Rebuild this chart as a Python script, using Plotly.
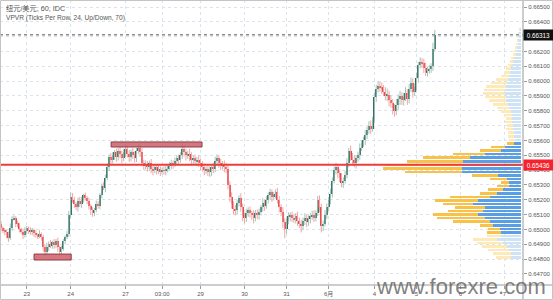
import plotly.graph_objects as go

# ---------------- data ----------------
title_line1 = "纽元/美元, 60, IDC"
title_line2 = "VPVR (Ticks Per Row, 24, Up/Down, 70)"

first_open = 0.65040
closes = [
    0.65010, 0.64990, 0.64985, 0.64960, 0.64945, 0.65010, 0.65070, 0.65080, 0.65040, 0.65030,
    0.65000, 0.64985, 0.64960, 0.64990, 0.65010, 0.64995, 0.64980, 0.64995, 0.64975, 0.64960,
    0.64955, 0.64970, 0.64950, 0.64880, 0.64850, 0.64880, 0.64905, 0.64890, 0.64915, 0.64895,
    0.64920, 0.64880, 0.64850, 0.64870, 0.64920, 0.64950, 0.64970, 0.65100, 0.65220, 0.65200,
    0.65170, 0.65150, 0.65190, 0.65170, 0.65200, 0.65230, 0.65210, 0.65190, 0.65160, 0.65130,
    0.65110, 0.65130, 0.65170, 0.65160, 0.65230, 0.65290, 0.65280, 0.65350, 0.65420, 0.65490,
    0.65470, 0.65500, 0.65520, 0.65490, 0.65530, 0.65510, 0.65480, 0.65520, 0.65540, 0.65510,
    0.65490, 0.65520, 0.65500, 0.65480, 0.65530, 0.65550, 0.65520, 0.65450, 0.65430, 0.65440,
    0.65420, 0.65450, 0.65410, 0.65400, 0.65420, 0.65400, 0.65410, 0.65390, 0.65400, 0.65395,
    0.65410, 0.65420, 0.65430, 0.65450, 0.65440, 0.65460, 0.65480, 0.65470, 0.65500, 0.65540,
    0.65520, 0.65500, 0.65510, 0.65490, 0.65470, 0.65480, 0.65460, 0.65470, 0.65450, 0.65440,
    0.65420, 0.65400, 0.65410, 0.65390, 0.65400, 0.65420, 0.65410, 0.65460, 0.65480, 0.65450,
    0.65430, 0.65440, 0.65420, 0.65410, 0.65300, 0.65220, 0.65170, 0.65140, 0.65130, 0.65180,
    0.65210, 0.65150, 0.65090, 0.65080, 0.65110, 0.65130, 0.65110, 0.65100, 0.65080, 0.65110,
    0.65100, 0.65120, 0.65150, 0.65180, 0.65160, 0.65200, 0.65230, 0.65250, 0.65220, 0.65240,
    0.65250, 0.65200, 0.65150, 0.65120, 0.65050, 0.65000, 0.65060, 0.65090, 0.65100, 0.65080,
    0.65070, 0.65090, 0.65060, 0.65040, 0.65020, 0.65060, 0.65080, 0.65050, 0.65070, 0.65090,
    0.65100, 0.65080, 0.65110, 0.65200, 0.65150, 0.65020, 0.65040, 0.65100, 0.65150, 0.65200,
    0.65240, 0.65330, 0.65400, 0.65420, 0.65380, 0.65350, 0.65310, 0.65330, 0.65370, 0.65450,
    0.65530, 0.65490, 0.65470, 0.65450, 0.65480, 0.65500, 0.65550, 0.65580, 0.65600, 0.65640,
    0.65670, 0.65700, 0.65680, 0.65740, 0.65890, 0.65950, 0.65970, 0.65960, 0.65950, 0.65930,
    0.65900, 0.65910, 0.65870, 0.65850, 0.65820, 0.65800, 0.65840, 0.65880, 0.65900, 0.65870,
    0.65890, 0.65920, 0.65880, 0.65950, 0.65990, 0.65930, 0.65960, 0.66020, 0.66110, 0.66130,
    0.66120, 0.66090, 0.66060, 0.66070, 0.66080, 0.66100, 0.66220, 0.66313,
]
# wick lengths above / below the body, in points (0.00001)
wick_up_pts = [
    15, 10, 20, 12, 25, 30, 20, 15, 10, 20,
    15, 10, 20, 25, 15, 10, 20, 15, 10, 20,
    15, 25, 10, 15, 20, 30, 15, 25, 10, 20,
    15, 25, 10, 20, 15, 10, 20, 25, 30, 25,
    20, 15, 25, 30, 20, 10, 20, 15, 25, 10,
    20, 15, 25, 20, 15, 20, 30, 20, 25, 15,
    25, 20, 15, 25, 20, 30, 20, 25, 30, 20,
    25, 20, 30, 25, 20, 30, 25, 30, 20, 25,
    20, 15, 25, 20, 15, 20, 25, 15, 20, 25,
    20, 15, 25, 20, 15, 25, 20, 25, 20, 40,
    30, 25, 20, 35, 30, 20, 25, 20, 30, 25,
    20, 25, 15, 20, 25, 20, 30, 30, 25, 20,
    25, 20, 25, 30, 20, 25, 30, 20, 25, 20,
    20, 35, 25, 20, 30, 20, 25, 15, 30, 20,
    25, 20, 15, 30, 20, 25, 20, 25, 20, 15,
    20, 30, 25, 20, 30, 25, 20, 25, 15, 20,
    25, 20, 30, 20, 25, 20, 30, 20, 25, 20,
    25, 30, 20, 25, 30, 25, 20, 30, 25, 20,
    35, 20, 25, 30, 20, 25, 30, 20, 25, 30,
    20, 35, 25, 30, 20, 25, 30, 20, 25, 30,
    25, 30, 35, 20, 30, 25, 30, 25, 30, 25,
    30, 40, 25, 35, 30, 25, 40, 30, 35, 25,
    30, 40, 25, 30, 35, 30, 25, 35, 20, 30,
    25, 30, 35, 25, 30, 20, 40, 32,
]
wick_dn_pts = [
    20, 15, 25, 20, 30, 15, 20, 10, 25, 15,
    20, 15, 25, 15, 20, 25, 15, 20, 25, 15,
    20, 15, 25, 30, 30, 20, 25, 15, 20, 25,
    20, 30, 25, 20, 15, 20, 15, 20, 25, 20,
    25, 20, 30, 20, 25, 20, 15, 20, 25, 30,
    25, 20, 15, 20, 25, 20, 15, 30, 20, 25,
    30, 25, 30, 35, 25, 30, 35, 20, 30, 25,
    35, 30, 25, 30, 25, 20, 30, 25, 30, 25,
    30, 25, 30, 35, 20, 30, 25, 30, 20, 25,
    30, 25, 20, 25, 30, 20, 25, 30, 20, 25,
    30, 35, 25, 30, 40, 35, 30, 35, 30, 40,
    30, 35, 25, 30, 35, 40, 30, 25, 30, 35,
    30, 25, 35, 30, 30, 35, 30, 40, 35, 30,
    25, 30, 35, 40, 30, 25, 30, 35, 40, 25,
    30, 35, 25, 30, 35, 20, 25, 30, 35, 25,
    30, 25, 35, 30, 40, 60, 30, 25, 35, 30,
    25, 30, 35, 30, 40, 25, 30, 35, 25, 30,
    25, 30, 25, 20, 35, 40, 30, 20, 30, 25,
    30, 25, 20, 30, 35, 30, 25, 30, 20, 25,
    30, 25, 35, 30, 40, 25, 30, 20, 25, 30,
    30, 25, 35, 20, 25, 30, 25, 30, 35, 30,
    30, 35, 40, 30, 45, 40, 30, 35, 40, 30,
    35, 25, 40, 30, 25, 40, 30, 25, 30, 25,
    30, 35, 25, 30, 20, 25, 30, 20,
]

day_tick_index = [14, 38, 68, 88, 109, 133, 156, 179, 204, 227, 251, 275]
day_tick_text = ["23", "24", "27", "03:00", "29", "30", "31", "6月", "4", "5", "6", "7"]

price_ticks = [0.647, 0.648, 0.649, 0.650, 0.651, 0.652, 0.653, 0.654, 0.655, 0.656,
               0.657, 0.658, 0.659, 0.660, 0.661, 0.662, 0.663, 0.664, 0.665]

level_line = 0.65436
last_price = 0.66313

box_low_x = [18.0, 38.3]
box_low_y = [0.64794, 0.64834]
box_high_x = [60.1, 109.8]
box_high_y = [0.65556, 0.65590]

# volume profile (rows of 24 ticks)
vp_row_start = 0.64800
vp_row_size = 0.00024
vp_up = [10, 10, 12, 14, 18, 24, 20, 20, 21, 28,
         31, 36, 43, 38, 36, 48, 43, 31, 24, 18,
         12, 12, 14, 23, 59, 59, 59, 58, 51, 36,
         20, 16, 7, 6, 7, 7, 8, 8, 9, 9,
         9, 10, 12, 13, 15, 15, 16, 16, 15, 14,
         13, 12, 11, 10, 9, 8, 7, 5, 5, 4,
         3, 3, 2, 2, 1]
vp_down = [15, 18, 21, 25, 26, 24, 14, 14, 12, 13,
           37, 48, 45, 35, 30, 30, 43, 40, 17, 15,
           12, 8, 17, 26, 57, 79, 77, 56, 47, 32,
           21, 14, 7, 6, 6, 6, 7, 6, 7, 6,
           8, 10, 12, 15, 17, 21, 22, 21, 20, 16,
           12, 8, 6, 5, 4, 3, 3, 3, 2, 2,
           2, 1, 1, 1, 1]
vp_value_area_rows = [7, 32]

# ---------------- derived ----------------
n = len(closes)
idx = list(range(n))
opens = [first_open] + closes[:-1]
highs = [max(o, c) + w * 1e-5 for o, c, w in zip(opens, closes, wick_up_pts)]
lows = [min(o, c) - w * 1e-5 for o, c, w in zip(opens, closes, wick_dn_pts)]

UP_BODY, DN_BODY = "#22695a", "#e23d3d"
UP_WICK, DN_WICK = "#a9c2ba", "#f3a5a5"

wx_up, wy_up, wx_dn, wy_dn = [], [], [], []
body_base, body_h, body_col = [], [], []
for i in idx:
    o, c = opens[i], closes[i]
    up = c >= o
    if up:
        wx_up += [i, i, None]; wy_up += [lows[i], highs[i], None]
    else:
        wx_dn += [i, i, None]; wy_dn += [lows[i], highs[i], None]
    body_base.append(min(o, c))
    body_h.append(max(abs(c - o), 0.00002))
    body_col.append(UP_BODY if up else DN_BODY)

rows = len(vp_up)
row_centers = [vp_row_start + vp_row_size * (k + 0.5) for k in range(rows)]
in_va = [vp_value_area_rows[0] <= k <= vp_value_area_rows[1] for k in range(rows)]
blue_cols = ["#5a9fe3" if v else "#cfe3f6" for v in in_va]
yel_cols = ["#f8c24a" if v else "#fdeab8" for v in in_va]

fig = go.Figure()

# volume profile
fig.add_trace(go.Bar(orientation="h", y=row_centers, x=vp_up, base=[0] * rows,
                     width=vp_row_size * 0.72, marker=dict(color=blue_cols, line_width=0),
                     xaxis="x2", yaxis="y", hoverinfo="skip"))
fig.add_trace(go.Bar(orientation="h", y=row_centers, x=vp_down, base=vp_up,
                     width=vp_row_size * 0.72, marker=dict(color=yel_cols, line_width=0),
                     xaxis="x2", yaxis="y", hoverinfo="skip"))

# candles: wicks then bodies
fig.add_trace(go.Scatter(x=wx_up, y=wy_up, mode="lines", line=dict(color=UP_WICK, width=1),
                         hoverinfo="skip"))
fig.add_trace(go.Scatter(x=wx_dn, y=wy_dn, mode="lines", line=dict(color=DN_WICK, width=1),
                         hoverinfo="skip"))
fig.add_trace(go.Bar(x=idx, y=body_h, base=body_base, width=0.62,
                     marker=dict(color=body_col, line_width=0), hoverinfo="skip"))

PLOT_W, PLOT_H, R, B = 523, 285, 30, 15

shapes = [
    dict(type="line", xref="paper", yref="y", x0=0, x1=1, y0=last_price, y1=last_price,
         line=dict(color="#8c8c8c", width=1.5, dash="dot"), layer="above"),
    dict(type="line", xref="paper", yref="y", x0=0, x1=1, y0=level_line, y1=level_line,
         line=dict(color="#ef3b3b", width=2), layer="above"),
    dict(type="rect", xref="x", yref="y", x0=box_low_x[0], x1=box_low_x[1],
         y0=box_low_y[0], y1=box_low_y[1], fillcolor="rgba(205,95,105,0.85)",
         line=dict(color="#8f3c4a", width=1), layer="above"),
    dict(type="rect", xref="x", yref="y", x0=box_high_x[0], x1=box_high_x[1],
         y0=box_high_y[0], y1=box_high_y[1], fillcolor="rgba(205,95,105,0.85)",
         line=dict(color="#8f3c4a", width=1), layer="above"),
    # separators and frame
    dict(type="line", xref="paper", yref="paper", x0=0, x1=(PLOT_W + R) / PLOT_W, y0=0, y1=0,
         line=dict(color="#9a9a9a", width=1)),
    dict(type="line", xref="paper", yref="paper", x0=1, x1=1, y0=-B / PLOT_H, y1=1,
         line=dict(color="#9a9a9a", width=1)),
    dict(type="rect", xref="paper", yref="paper", x0=0.5 / PLOT_W, x1=(PLOT_W + R - 0.5) / PLOT_W,
         y0=-(B - 0.5) / PLOT_H, y1=1 - 0.5 / PLOT_H, line=dict(color="#c4c4c4", width=1)),
]

FONT = "Liberation Sans, Arial, Noto Sans CJK SC, sans-serif"
annotations = [
    dict(text=title_line1, xref="paper", yref="paper", x=0, y=1, xanchor="left", yanchor="top",
         xshift=4, yshift=-2, showarrow=False, font=dict(family=FONT, size=7.2, color="#555555")),
    dict(text=title_line2, xref="paper", yref="paper", x=0, y=1, xanchor="left", yanchor="top",
         xshift=4, yshift=-12, showarrow=False, font=dict(family=FONT, size=6.6, color="#555555")),
    dict(text=f"{last_price:.5f}", xref="paper", yref="y", x=1, y=last_price, xanchor="left",
         yanchor="middle", showarrow=False, bgcolor="#111111", width=27, height=8, borderpad=1,
         font=dict(family=FONT, size=6.3, color="#ffffff")),
    dict(text=f"{level_line:.5f}", xref="paper", yref="y", x=1, y=level_line, xanchor="left",
         yanchor="middle", showarrow=False, bgcolor="#f5222d", width=27, height=8, borderpad=1,
         font=dict(family=FONT, size=6.3, color="#ffffff")),
    dict(text="www.forexre.com", xref="paper", yref="paper", x=461 / PLOT_W, y=0,
         xanchor="center", yanchor="middle", yshift=-1, showarrow=False,
         font=dict(family="Liberation Sans, Arial, sans-serif", size=22, color="rgba(95,95,95,0.8)")),
]

fig.update_layout(
    width=553, height=300,
    margin=dict(l=0, r=R, t=0, b=B, pad=0),
    paper_bgcolor="white", plot_bgcolor="white",
    showlegend=False, barmode="overlay", bargap=0,
    xaxis=dict(range=[-0.6, 285.2], tickvals=day_tick_index, ticktext=day_tick_text,
               showgrid=True, gridcolor="#dbe3ec", griddash="dot", gridwidth=1,
               zeroline=False, showline=False, ticks="outside", ticklen=3, tickcolor="#9a9a9a",
               tickfont=dict(family=FONT, size=6, color="#555555"), fixedrange=True),
    xaxis2=dict(overlaying="x", range=[521, -2], visible=False, fixedrange=True),
    yaxis=dict(side="right", range=[0.646254, 0.665472], tickvals=price_ticks,
               ticktext=[f"{p:.5f}" for p in price_ticks],
               showgrid=True, gridcolor="#dbe3ec", griddash="dot", gridwidth=1,
               zeroline=False, showline=False, ticks="outside", ticklen=3, tickcolor="#9a9a9a",
               tickfont=dict(family=FONT, size=6, color="#555555"), fixedrange=True),
    shapes=shapes, annotations=annotations,
)

fig.write_html("out.html")
